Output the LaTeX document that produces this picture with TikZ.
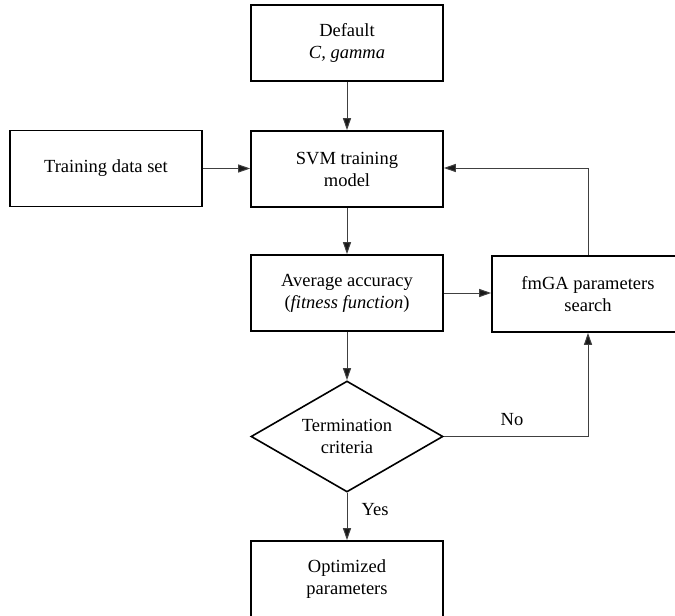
\documentclass[tikz,border=0pt]{standalone}
\usepackage{fontspec}
\setmainfont{Liberation Serif}
\usetikzlibrary{shapes.geometric,arrows.meta}
\begin{document}
\begin{tikzpicture}[x=1pt,y=-1pt,
  box/.style={draw=black,line width=1.6pt,minimum width=192pt,minimum height=76pt,inner sep=0pt,align=center,font=\fontsize{18.5}{22}\selectfont},
  dec/.style={draw=black,line width=1.6pt,diamond,aspect=1.73,minimum width=192pt,minimum height=111pt,inner sep=0pt,align=center,font=\fontsize{18.5}{22}\selectfont},
  conn/.style={draw=black!75,line width=1pt,-{Triangle[length=12pt,width=8pt,fill=black!90]}},
  lbl/.style={font=\fontsize{18.5}{22}\selectfont}]
\useasboundingbox (0,0) rectangle (675,616);
\clip (0,0) rectangle (675,616);
\node[box] (def) at (347,43) {Default\\\textit{C, gamma}};
\node[box] (train) at (106,168.5) {Training data set};
\node[box] (svm) at (347,169) {SVM training\\model};
\node[box] (avg) at (347,293) {Average accuracy\\(\textit{fitness function})};
\node[box] (fmga) at (588,294) {fmGA parameters\\search};
\node[dec] (term) at (347,436.5) {Termination\\criteria};
\node[box] (opt) at (347,579) {Optimized\\parameters};
\coordinate (c1) at (588,168);
\coordinate (c2) at (588,436.5);
\draw[conn] (def) -- (svm);
\draw[conn] (train.east) -- (svm.west|-train.east);
\draw[conn] (svm) -- (avg);
\draw[conn] (avg.east) -- (fmga.west|-avg.east);
\draw[conn] (fmga.north) -- (c1) -- (svm.east|-c1);
\draw[conn] (avg) -- (term);
\draw[conn] (term.east) -- (c2) -- (fmga.south);
\draw[conn] (term) -- (opt);
\node[lbl] (no) at (512,420) {No};
\node[lbl] (yes) at (375,510) {Yes};
\end{tikzpicture}
\end{document}
